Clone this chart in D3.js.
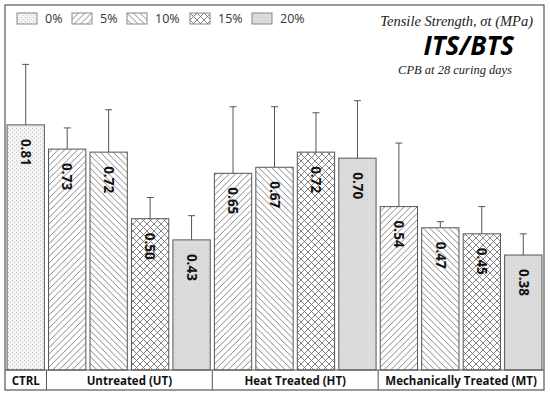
<!DOCTYPE html>
<html>
<head>
<meta charset="utf-8">
<script src="https://cdn.jsdelivr.net/npm/d3@7"></script>
<style>
  body { margin: 0; background: #fff; }
  svg { display: block; }
</style>
</head>
<body>
<svg id="chart" width="550" height="397"></svg>
<script>
// data
var groups = ["CTRL", "Untreated (UT)", "Heat Treated (HT)", "Mechanically Treated (MT)"];
var levels = ["0%", "5%", "10%", "15%", "20%"];
var ctrlValues = [0.81];
var ctrlErrors = [0.20];
var utValues = [0.73, 0.72, 0.50, 0.43];
var utErrors = [0.07, 0.14, 0.07, 0.08];
var htValues = [0.65, 0.67, 0.72, 0.70];
var htErrors = [0.22, 0.20, 0.13, 0.19];
var mtValues = [0.54, 0.47, 0.45, 0.38];
var mtErrors = [0.21, 0.02, 0.09, 0.07];

var svg = d3.select("#chart");
var frame = { left: 5, top: 5, right: 544, bottom: 390 };
var baseY = 370;
var stroke = "#555";

// flatten into one list of bars
var bars = [];
bars.push({ group: 0, level: 0, value: ctrlValues[0], err: ctrlErrors[0] });
[utValues, htValues, mtValues].forEach(function(vals, gi) {
    var errs = [utErrors, htErrors, mtErrors][gi];
    vals.forEach(function(v, i) {
        bars.push({ group: gi + 1, level: i + 1, value: v, err: errs[i] });
    });
});
bars.forEach(function(d, i) { d.idx = i; });

var x = d3.scaleBand()
    .domain(d3.range(bars.length))
    .range([frame.left, frame.right])
    .paddingInner(0.1)
    .paddingOuter(0.05);
var y = d3.scaleLinear().domain([0, 1]).range([baseY, 67.4]);

// patterns
var defs = svg.append("defs");
function hatch(id, paths, size, bg) {
    var p = defs.append("pattern").attr("id", id)
        .attr("patternUnits", "userSpaceOnUse")
        .attr("width", size).attr("height", size);
    p.append("rect").attr("width", size).attr("height", size).attr("fill", bg);
    paths.forEach(function(d) {
        p.append("path").attr("d", d).attr("stroke", "#666")
            .attr("stroke-width", 0.8).attr("fill", "none");
    });
}
// stipple for 0%
var dots = defs.append("pattern").attr("id", "pat0")
    .attr("patternUnits", "userSpaceOnUse").attr("width", 4).attr("height", 4);
dots.append("rect").attr("width", 4).attr("height", 4).attr("fill", "#f3f3f3");
dots.append("rect").attr("x", 0).attr("y", 0).attr("width", 1).attr("height", 1).attr("fill", "#c4c4c4");
dots.append("rect").attr("x", 2).attr("y", 2).attr("width", 1).attr("height", 1).attr("fill", "#d0d0d0");
var s = 6.5;
hatch("pat1", ["M0," + s + " L" + s + ",0", "M-2,2 L2,-2", "M" + (s - 2) + "," + (s + 2) + " L" + (s + 2) + "," + (s - 2)], s, "#fff");
hatch("pat2", ["M0,0 L" + s + "," + s, "M-2," + (s - 2) + " L2," + (s + 2), "M" + (s - 2) + ",-2 L" + (s + 2) + ",2"], s, "#fff");
var c = 7;
hatch("pat3", ["M0," + c + " L" + c + ",0", "M0,0 L" + c + "," + c], c, "#fff");
var solid = defs.append("pattern").attr("id", "pat4")
    .attr("patternUnits", "userSpaceOnUse").attr("width", 3).attr("height", 3);
solid.append("rect").attr("width", 3).attr("height", 3).attr("fill", "#dcdcdc");
solid.append("rect").attr("x", 1).attr("y", 1).attr("width", 1).attr("height", 1).attr("fill", "#d2d2d2");

// frame
svg.append("rect")
    .attr("x", frame.left).attr("y", frame.top)
    .attr("width", frame.right - frame.left).attr("height", frame.bottom - frame.top)
    .attr("fill", "#fff").attr("stroke", stroke).attr("stroke-width", 1.2);

// bars
svg.append("g").selectAll("rect")
    .data(bars)
    .enter()
    .append("rect")
    .attr("x", function(d) { return x(d.idx); })
    .attr("y", function(d) { return y(d.value); })
    .attr("width", x.bandwidth())
    .attr("height", function(d) { return baseY - y(d.value); })
    .attr("fill", function(d) { return "url(#pat" + d.level + ")"; })
    .attr("stroke", stroke)
    .attr("stroke-width", 1);

// error bars
var eg = svg.append("g").attr("stroke", "#555").attr("stroke-width", 1);
bars.forEach(function(d) {
    var cx = x(d.idx) + x.bandwidth() / 2;
    eg.append("line").attr("x1", cx).attr("x2", cx)
        .attr("y1", y(d.value)).attr("y2", y(d.value + d.err));
    eg.append("line").attr("x1", cx - 3.5).attr("x2", cx + 3.5)
        .attr("y1", y(d.value + d.err)).attr("y2", y(d.value + d.err));
});

// value labels (rotated)
svg.append("g").selectAll("text")
    .data(bars)
    .enter()
    .append("text")
    .attr("transform", function(d) {
        var cx = x(d.idx) + x.bandwidth() / 2;
        return "translate(" + cx + "," + (y(d.value) + 14) + ") rotate(90)";
    })
    .attr("dy", "0.35em")
    .attr("font-family", "'Open Sans', 'Noto Sans', sans-serif")
    .attr("font-weight", "bold")
    .attr("font-size", 13.5)
    .attr("fill", "#111")
    .text(function(d) { return d.value.toFixed(2); });

// category row
var groupSpans = groups.map(function(g, gi) {
    var members = bars.filter(function(d) { return d.group === gi; });
    var first = members[0].idx, last = members[members.length - 1].idx;
    return {
        name: g,
        x0: frame.left + first * x.step(),
        x1: frame.left + (last + 1) * x.step()
    };
});
svg.append("line").attr("x1", frame.left).attr("x2", frame.right)
    .attr("y1", baseY).attr("y2", baseY).attr("stroke", stroke).attr("stroke-width", 1.2);
svg.append("g").selectAll("line")
    .data(groupSpans.slice(1))
    .enter()
    .append("line")
    .attr("x1", function(d) { return d.x0; })
    .attr("x2", function(d) { return d.x0; })
    .attr("y1", baseY).attr("y2", frame.bottom)
    .attr("stroke", stroke).attr("stroke-width", 1);
svg.append("g").selectAll("text")
    .data(groupSpans)
    .enter()
    .append("text")
    .attr("x", function(d) { return (d.x0 + d.x1) / 2; })
    .attr("y", 384.5)
    .attr("text-anchor", "middle")
    .attr("font-family", "'Open Sans', 'Noto Sans', sans-serif")
    .attr("font-weight", "bold")
    .attr("font-size", 11.5)
    .attr("fill", "#111")
    .text(function(d) { return d.name; });

// legend
var legendX = [17, 72, 127, 190, 252];
var lg = svg.append("g").selectAll("g")
    .data(levels)
    .enter()
    .append("g")
    .attr("transform", function(d, i) { return "translate(" + legendX[i] + ",13)"; });
lg.append("rect")
    .attr("width", 20).attr("height", 11)
    .attr("fill", function(d, i) { return "url(#pat" + i + ")"; })
    .attr("stroke", "#888").attr("stroke-width", 1);
lg.append("text")
    .attr("x", 28).attr("y", 10)
    .attr("font-family", "'Open Sans', 'Noto Sans', sans-serif")
    .attr("font-size", 12.5)
    .attr("fill", "#333")
    .text(function(d) { return d; });

// titles
svg.append("text")
    .attr("x", 533).attr("y", 26)
    .attr("text-anchor", "end")
    .attr("font-family", "'Liberation Serif', 'DejaVu Serif', serif")
    .attr("font-style", "italic")
    .attr("font-size", 14.5)
    .attr("fill", "#222")
    .text("Tensile Strength, σt (MPa)");
svg.append("text")
    .attr("x", 514).attr("y", 55)
    .attr("text-anchor", "end")
    .attr("font-family", "'Open Sans', 'Noto Sans', sans-serif")
    .attr("font-style", "italic")
    .attr("font-weight", "bold")
    .attr("font-size", 26)
    .attr("fill", "#000")
    .text("ITS/BTS");
svg.append("text")
    .attr("x", 512).attr("y", 74)
    .attr("text-anchor", "end")
    .attr("font-family", "'Liberation Serif', 'DejaVu Serif', serif")
    .attr("font-style", "italic")
    .attr("font-size", 12.5)
    .attr("fill", "#222")
    .text("CPB at 28 curing days");
</script>
</body>
</html>
